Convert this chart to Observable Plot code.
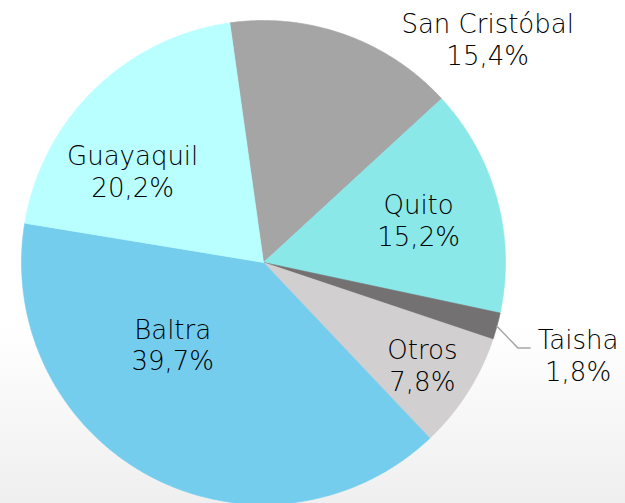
<!DOCTYPE html>
<html>
<head>
<meta charset="utf-8">
<script src="https://cdn.jsdelivr.net/npm/d3@7"></script>
<script src="https://cdn.jsdelivr.net/npm/@observablehq/plot@0.6"></script>
<style>
  html, body { margin: 0; padding: 0; }
  body { width: 625px; height: 503px; background: linear-gradient(#ffffff 0%, #ffffff 65%, #efefef 100%); overflow: hidden; }
  svg { display: block; background: transparent !important; }
</style>
</head>
<body>
<div id="chart"></div>
<script>
// Data (clockwise order starting near 12 o'clock)
const categories = ["San Cristóbal", "Quito", "Taisha", "Otros", "Baltra", "Guayaquil"];
const values = [15.4, 15.2, 1.8, 7.8, 39.7, 20.2];
const valueLabels = ["15,4%", "15,2%", "1,8%", "7,8%", "39,7%", "20,2%"];

// Styling / layout
const colors = ["#a5a5a5", "#8ae8e8", "#737171", "#d1cfd0", "#75cdee", "#b9ffff"];
const startDeg = -8;
const W = 625, H = 503, cx = 263, cy = 262, R = 242;
// label placement (angle in degrees clockwise from 12 o'clock, radius in pie radii)
const labelPlace = {
  "San Cristóbal": [45, 1.31],
  "Quito": [74.5, 0.665],
  "Taisha": [106.4, 1.355],
  "Otros": [122.7, 0.78],
  "Baltra": [228, 0.505],
  "Guayaquil": [305, 0.66]
};

const total = d3.sum(values);
const toRad = d => d * Math.PI / 180;
const pt = (deg, r) => ({x: r * Math.sin(toRad(deg)), y: r * Math.cos(toRad(deg))});

// Build slice polygons
let acc = startDeg;
const polys = [];
const slices = categories.map((c, i) => {
  const a0 = acc, a1 = acc + values[i] / total * 360;
  acc = a1;
  polys.push({name: c, ...pt(0, 0)});
  const n = Math.max(4, Math.ceil((a1 - a0) / 0.5));
  for (let k = 0; k <= n; k++) polys.push({name: c, ...pt(a0 + (a1 - a0) * k / n, 1)});
  polys.push({name: c, ...pt(0, 0)});
  return {name: c, a0, a1, mid: (a0 + a1) / 2};
});

const labels = categories.map((c, i) => {
  const [a, r] = labelPlace[c];
  return {name: c, text: c + "\n" + valueLabels[i], ...pt(a, r)};
});

// Leader line for Taisha
const t = slices[2];
const e = pt(t.mid + 3.3, 1.11);
const leader = [pt(t.mid, 1.0), e, {x: e.x + 12 / R, y: e.y}];

const chart = Plot.plot({
  width: W, height: H,
  margin: 0,
  x: {domain: [-cx / R, (W - cx) / R], range: [0, W], axis: null},
  y: {domain: [-(H - cy) / R, cy / R], range: [H, 0], axis: null},
  color: {domain: categories, range: colors},
  style: {background: "transparent"},
  marks: [
    Plot.line(polys, {x: "x", y: "y", z: "name", fill: "name", stroke: "name", strokeWidth: 0.6, curve: "linear"}),
    Plot.line(leader, {x: "x", y: "y", stroke: "#a6a6a6", strokeWidth: 1.5}),
    Plot.text(labels, {x: "x", y: "y", text: "text", fill: "#000000", fontSize: 26, lineHeight: 1.23,
      fontFamily: "DejaVu Sans", fontWeight: 300})
  ]
});
document.getElementById("chart").appendChild(chart);
</script>
</body>
</html>
